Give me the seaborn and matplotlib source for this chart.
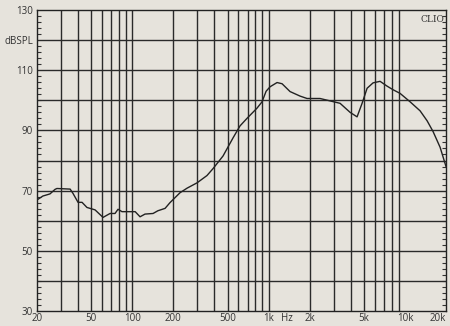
import numpy as np
import pandas as pd
import matplotlib
matplotlib.use("Agg")
import matplotlib.pyplot as plt
import seaborn as sns
from matplotlib.ticker import FixedLocator, NullFormatter

# ---- data ----
freq_hz = [20, 22.1, 24.9, 27.1, 28, 35, 36.7, 40, 42.8, 46.5, 53.3, 61, 68.7, 74.7,
           78.6, 84, 96, 105, 114, 124, 142, 154, 174, 189, 224, 252, 299, 353, 391,
           463, 548, 617, 694, 822, 895, 958, 1025, 1153, 1255, 1436, 1700, 1914,
           2384, 2822, 3342, 3958, 4454, 4848, 5276, 5838, 6570, 7396, 8185, 9208,
           10906, 12912, 14533, 16084, 18101, 20000]
spl_db = [66.9, 68.2, 68.9, 70.4, 70.7, 70.5, 69.1, 66.1, 66.1, 64.4, 63.6, 61.1, 62.4,
          62.4, 63.8, 63.0, 63.0, 63.0, 61.3, 62.2, 62.4, 63.3, 64.1, 66.0, 69.3, 70.8,
          72.6, 75.0, 77.3, 81.5, 87.5, 91.5, 94.0, 97.4, 99.5, 103.0, 104.5, 105.9,
          105.5, 102.9, 101.4, 100.6, 100.6, 99.8, 99.0, 96.0, 94.5, 99.0, 104.0,
          105.8, 106.3, 104.7, 103.5, 102.3, 99.5, 96.5, 93.2, 89.6, 84.4, 78.0]

x_tick_vals = [20, 50, 100, 200, 500, 1000, 1370, 2000, 5000, 10000, 20000]
x_tick_labels = ["20", "50", "100", "200", "500", "1k", "Hz", "2k", "5k", "10k", "20k"]
y_tick_vals = [30, 50, 70, 90, 110, 120, 130]
y_tick_labels = ["30", "50", "70", "90", "110", "dBSPL", "130"]

df = pd.DataFrame({"freq": freq_hz, "spl": spl_db})

sns.set_style("white")
plt.rcParams["font.family"] = ["Open Sans", "DejaVu Sans"]

bg = "#E6E3DC"
fig = plt.figure(figsize=(4.5, 3.26), dpi=100, facecolor=bg)
ax = fig.add_axes([37/450, 1 - 311/326, (446 - 37)/450, (311 - 10)/326])
ax.set_facecolor(bg)

ax.set_xscale("log")
ax.set_xlim(20, 20000)
ax.set_ylim(30, 130)

# grid lines
grid_col = "#2a2a2a"
vlines = [v * d for d in (10, 100, 1000) for v in range(1, 10)]
vlines = [v for v in vlines if 20 < v < 20000]
for v in vlines:
    ax.axvline(v, color=grid_col, lw=1.0, zorder=1)
for h in range(40, 130, 10):
    ax.axhline(h, color=grid_col, lw=1.0, zorder=1)

sns.lineplot(data=df, x="freq", y="spl", ax=ax, color="#222222", lw=1.0, zorder=3)

ax.set_xlabel("")
ax.set_ylabel("")

ax.xaxis.set_major_locator(FixedLocator(x_tick_vals))
ax.set_xticklabels(x_tick_labels)
ax.xaxis.set_minor_locator(FixedLocator([]))
ax.xaxis.set_minor_formatter(NullFormatter())
ax.set_yticks(y_tick_vals)
ax.set_yticklabels(y_tick_labels)
ax.yaxis.set_minor_locator(FixedLocator(list(range(32, 130, 2))))

ax.tick_params(axis="x", which="both", length=0, pad=1.5, labelsize=7, labelcolor="#333333")
ax.tick_params(axis="y", which="major", length=0, pad=3, labelsize=7, labelcolor="#333333")
ax.tick_params(axis="y", which="minor", direction="in", length=3, width=0.8,
               color="#333333", left=True, right=True)

for lab in ax.get_xticklabels():
    if lab.get_text() == "20k":
        lab.set_ha("right")
        lab.set_x(20000)

for s in ax.spines.values():
    s.set_color("#222222")
    s.set_linewidth(1.0)
    s.set_visible(True)

ax.text(0.997, 0.985, "CLIO", transform=ax.transAxes, ha="right", va="top",
        fontsize=6.5, family="DejaVu Serif", color="#333333", zorder=4)

fig.savefig("out.png", dpi=100, facecolor=bg)
